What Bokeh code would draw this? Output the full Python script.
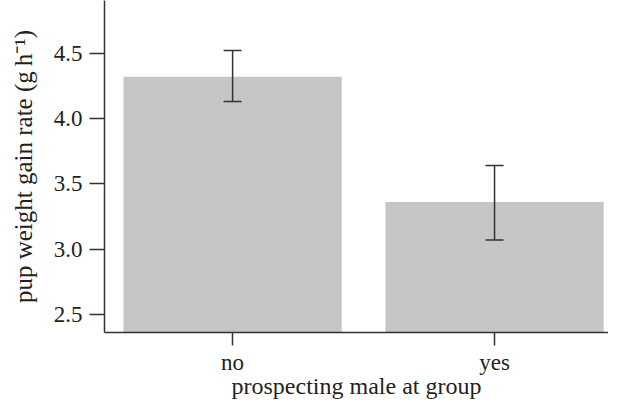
from bokeh.plotting import figure
from bokeh.models import Range1d, Whisker, ColumnDataSource, FixedTicker, NumeralTickFormatter
from bokeh.embed import file_html
from bokeh.resources import INLINE

categories = ["no", "yes"]
means = [4.32, 3.36]
lower = [4.13, 3.07]
upper = [4.52, 3.64]
y_ticks = [2.5, 3.0, 3.5, 4.0, 4.5]

xpos = [i + 0.5 for i in range(len(categories))]
src = ColumnDataSource(dict(x=xpos, top=means, lower=lower, upper=upper))

FONT = "Liberation Serif"
TXT = "#231f20"
AX = "#333333"

p = figure(width=608, height=401, output_backend="svg", toolbar_location=None,
           x_range=Range1d(0.011, 1.935), y_range=Range1d(2.362, 4.903),
           min_border_left=104, min_border_right=0, min_border_top=0, min_border_bottom=61)
p.outline_line_color = None
p.grid.visible = False
p.background_fill_color = "white"

p.vbar(x="x", top="top", bottom=0, width=0.833, source=src,
       fill_color="#c5c5c7", line_color=None)

w = Whisker(base="x", lower="lower", upper="upper", source=src,
            line_color=AX, line_width=1.5, level="overlay")
for h in (w.upper_head, w.lower_head):
    h.size = 18
    h.line_color = AX
    h.line_width = 1.5
p.add_layout(w)

p.xaxis.ticker = FixedTicker(ticks=xpos)
p.xaxis.major_label_overrides = {x: c for x, c in zip(xpos, categories)}
p.yaxis.ticker = FixedTicker(ticks=y_ticks)
p.yaxis.formatter = NumeralTickFormatter(format="0.0")
p.xaxis.minor_tick_line_color = None
p.yaxis.minor_tick_line_color = None

for ax in (p.xaxis[0], p.yaxis[0]):
    ax.axis_line_color = AX
    ax.axis_line_width = 1.5
    ax.major_tick_line_color = AX
    ax.major_tick_line_width = 1.5
    ax.major_tick_in = 0
    ax.major_tick_out = 15
    ax.major_label_text_font = FONT
    ax.major_label_text_font_size = "23px"
    ax.major_label_text_color = TXT
    ax.axis_label_text_font = FONT
    ax.axis_label_text_font_size = "25px"
    ax.axis_label_text_font_style = "normal"
    ax.axis_label_text_color = TXT

p.yaxis.axis_label = "pup weight gain rate (g\u2009h\u207b\u00b9)"
p.xaxis.axis_label = "prospecting male at group"
p.xaxis.axis_label_text_font_size = "24px"
p.xaxis.major_tick_out = 13
p.xaxis.major_label_standoff = 4
p.xaxis.axis_label_standoff = -5
p.yaxis.major_label_standoff = 7
p.yaxis.axis_label_standoff = 14

open("out.html", "w").write(file_html(p, INLINE))
